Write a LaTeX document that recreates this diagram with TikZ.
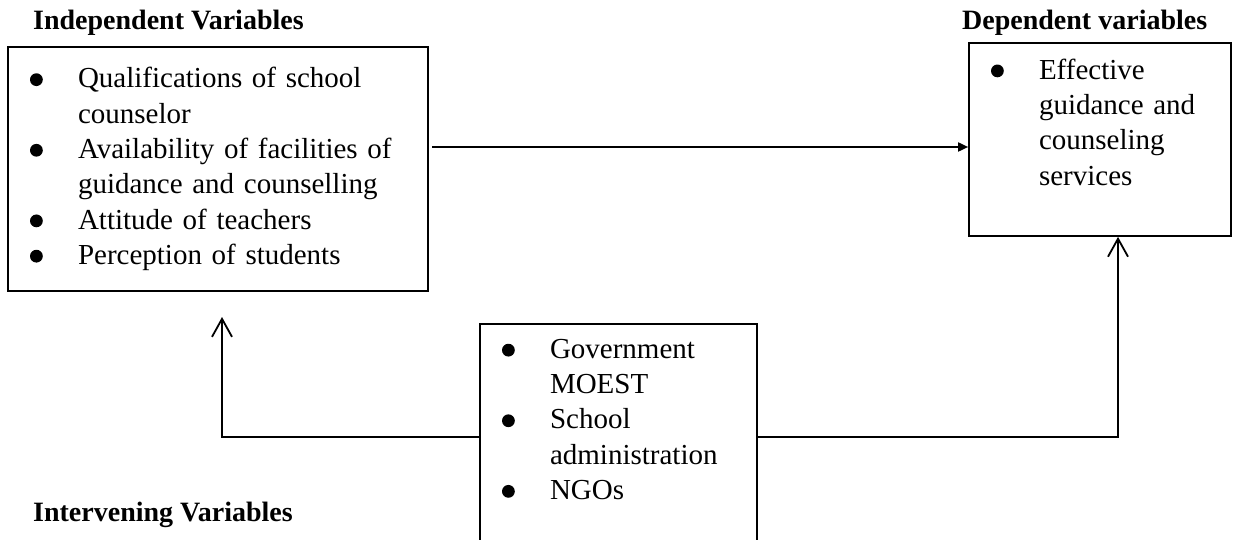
\documentclass[tikz,border=0pt]{standalone}
\usepackage{fontspec}
\setmainfont{Liberation Serif}
\usetikzlibrary{arrows.meta, positioning}
\newcommand{\bdot}{\raisebox{1.8pt}{\tikz\fill (0,0) circle (6.4pt);}}
\newcommand{\bitem}{\makebox[48pt][l]{\bdot}}
\newcommand{\bcont}{\hspace*{48pt}}

\begin{document}
\begin{tikzpicture}[
        x=1pt, y=1pt,
        every node/.style={font=\fontsize{29}{35.3}\selectfont},
        box/.style={draw, line width=1.7pt, inner xsep=22pt, inner ysep=0pt, align=left},
        heading/.style={font=\fontsize{28}{34}\selectfont\bfseries, inner sep=0pt, anchor=base west},
        flow/.style={line width=1.8pt, -{Triangle[length=10pt,width=9pt]}},
        feed/.style={line width=1.8pt, -{Straight Barb[length=18pt,width=20pt]}}
    ]
        \useasboundingbox (0,0) rectangle (1233,539);
        \clip (0,0) rectangle (1233,539);

        % Headings
        \node[heading] (indephead) at (33,509) {Independent Variables};
        \node[heading] (dephead) at (962,509) {Dependent variables};
        \node[heading] (interhead) at (33,18) {Intervening Variables};

        % Variables
        \node[box, text width=376pt, minimum height=244pt] (indep) at (218,370)
            {\bitem Qualifications of school\\ \bcont counselor\\
             \bitem Availability of facilities of\\ \bcont guidance and counselling\\
             \bitem Attitude of teachers\\
             \bitem Perception of students};
        \node[box, text width=218pt, minimum height=193pt] (dep) at (1100,399.5)
            {\bitem Effective\\ \bcont guidance and\\ \bcont counseling\\ \bcont services\\ \mbox{}};
        \node[box, text width=233pt, minimum height=226pt] (inter) at (618.5,102)
            {\bitem Government\\ \bcont MOEST\\ \bitem School\\ \bcont administration\\ \bitem NGOs\\ \mbox{}};

        % Links
        \coordinate (tap) at (432,392);
        \coordinate (leftend) at (222,222);
        \draw[flow] (tap) -- (tap -| dep.west);
        \draw[feed] (inter.west) -| (leftend);
        \draw[feed] (inter.east) -| ([xshift=18pt]dep.south);

    \end{tikzpicture}
\end{document}
